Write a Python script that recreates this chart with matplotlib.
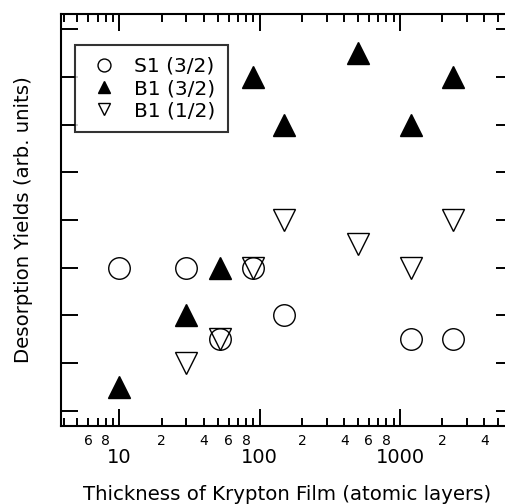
import matplotlib
matplotlib.use("Agg")
import matplotlib.pyplot as plt
from matplotlib.ticker import FixedLocator, FixedFormatter, NullFormatter

plt.rcParams['font.family'] = ['DejaVu Sans']

# Data (thickness in atomic layers, yield in arbitrary units)
s1_x = [10, 30, 52, 90, 150, 1200, 2400]
s1_y = [3, 3, 1.5, 3, 2, 1.5, 1.5]

b1_32_x = [10, 30, 52, 90, 150, 500, 1200, 2400]
b1_32_y = [0.5, 2, 3, 7, 6, 7.5, 6, 7]

b1_12_x = [30, 52, 90, 150, 500, 1200, 2400]
b1_12_y = [1, 1.5, 3, 4, 3.5, 3, 4]

labels = ["S1 (3/2)", "B1 (3/2)", "B1 (1/2)"]

major_ticks = [10, 100, 1000]
major_labels = ["10", "100", "1000"]
minor_ticks = [4, 5, 6, 7, 8, 9, 20, 30, 40, 50, 60, 70, 80, 90,
               200, 300, 400, 500, 600, 700, 800, 900, 2000, 3000, 4000, 5000, 6000]
minor_label_map = {6: "6", 8: "8", 20: "2", 40: "4", 60: "6", 80: "8",
                   200: "2", 400: "4", 600: "6", 800: "8", 2000: "2", 4000: "4"}
y_ticks = [0, 1, 2, 3, 4, 5, 6, 7, 8]

fig = plt.figure(figsize=(5.06, 5.04), dpi=100)
ax = fig.add_axes([0.12, 0.1548, 0.894, 0.8175])

ms = 15.5
mew = 1.0
ax.plot(s1_x, s1_y, linestyle='none', marker='o', ms=ms, mfc='none', mec='black', mew=mew, label=labels[0])
ax.plot(b1_32_x, b1_32_y, linestyle='none', marker='^', ms=ms, mfc='black', mec='black', mew=mew, label=labels[1])
ax.plot(b1_12_x, b1_12_y, linestyle='none', marker='v', ms=ms, mfc='none', mec='black', mew=mew, label=labels[2])

ax.set_xscale('log')
ax.set_xlim(3.81, 6400)
ax.set_ylim(-0.32, 8.32)

ax.xaxis.set_major_locator(FixedLocator(major_ticks))
ax.xaxis.set_major_formatter(FixedFormatter(major_labels))
ax.xaxis.set_minor_locator(FixedLocator(minor_ticks))
ax.xaxis.set_minor_formatter(FixedFormatter([minor_label_map.get(t, "") for t in minor_ticks]))
ax.yaxis.set_major_locator(FixedLocator(y_ticks))
ax.yaxis.set_major_formatter(NullFormatter())
ax.yaxis.set_minor_locator(FixedLocator([]))

for sp in ax.spines.values():
    sp.set_linewidth(1.5)

ax.tick_params(axis='x', which='major', direction='in', length=12, width=1.4,
               top=True, bottom=True, labelsize=14, pad=16)
ax.tick_params(axis='x', which='minor', direction='in', length=6, width=1.4,
               top=True, bottom=True, labelsize=10, pad=6)
ax.tick_params(axis='y', which='major', direction='in', length=12, width=1.4,
               left=True, right=True)

ax.set_xlabel("Thickness of Krypton Film (atomic layers)", fontsize=14.2)
ax.xaxis.set_label_coords(0.5, -0.143)
ax.set_ylabel("Desorption Yields (arb. units)", fontsize=14.2)
ax.yaxis.set_label_coords(-0.062, 0.5)

leg = ax.legend(loc='upper left', bbox_to_anchor=(0.0316, 0.925), fontsize=14.5,
                markerscale=0.6, frameon=True, fancybox=False, borderaxespad=0,
                handlelength=1.65, handletextpad=0.7, labelspacing=0.16,
                borderpad=0.6)
leg.get_frame().set_edgecolor('black')
leg.get_frame().set_linewidth(1.5)

fig.savefig("out.png", dpi=100)
